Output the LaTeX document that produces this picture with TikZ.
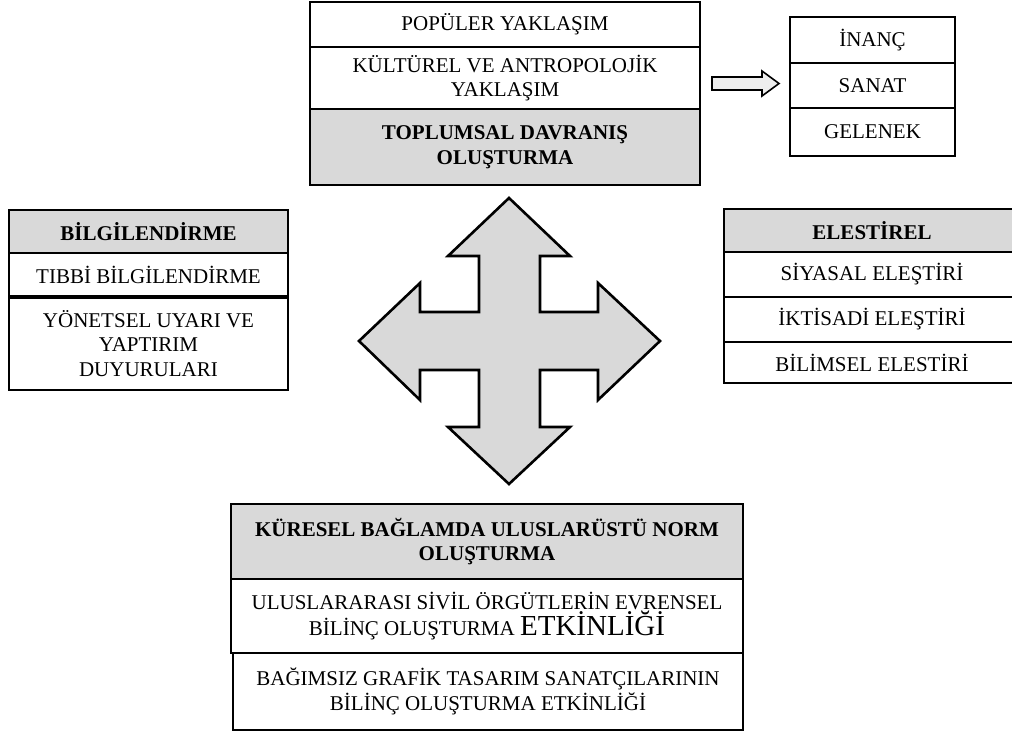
\documentclass[tikz,border=0pt]{standalone}
\usepackage{fontspec}
\setmainfont{Liberation Serif}
\definecolor{hgray}{HTML}{D9D9D9}
\definecolor{agray}{HTML}{EEEEEE}
\tikzset{
  cell/.style={draw=black, line width=1.8pt, align=center, inner sep=0pt, outer sep=0pt,
    anchor=north west, font=\fontsize{21}{24.5}\selectfont},
  headcell/.style={cell, fill=hgray, font=\fontsize{21}{24.5}\selectfont\bfseries},
  bigarrow/.style={draw=black, line width=2.6pt, fill=hgray, line join=miter},
  hollowarrow/.style={draw=black, line width=1.6pt, fill=agray, line join=miter},
}
\begin{document}
\begin{tikzpicture}[x=1pt,y=-1pt]
\useasboundingbox (0,0) rectangle (1012,734);
\clip (0,0) rectangle (1012,734);
\fill[white] (0,0) rectangle (1012,734);

% top centre
\node[cell, minimum width=390pt, minimum height=45pt] (t1) at (310,2) {POPÜLER YAKLAŞIM};
\node[cell, minimum width=390pt, minimum height=62pt] (t2) at (310,47) {KÜLTÜREL VE ANTROPOLOJİK\\YAKLAŞIM};
\node[headcell, minimum width=390pt, minimum height=76pt] (t3) at (310,109) {TOPLUMSAL DAVRANIŞ\\OLUŞTURMA};

% top right
\node[cell, minimum width=165pt, minimum height=46pt] (r1) at (790,17) {İNANÇ};
\node[cell, minimum width=165pt, minimum height=45pt] (r2) at (790,63) {SANAT};
\node[cell, minimum width=165pt, minimum height=48pt] (r3) at (790,108) {GELENEK};

% hollow arrow
\draw[hollowarrow] (712,77) -- (762,77) -- (762,71) -- (779,83.5) -- (762,96) -- (762,90) -- (712,90) -- cycle;

% left box
\node[headcell, minimum width=279pt, minimum height=43pt] (l1) at (9,210) {BİLGİLENDİRME};
\node[cell, minimum width=279pt, minimum height=44pt] (l2) at (9,253) {TIBBİ BİLGİLENDİRME};
\node[cell, minimum width=279pt, minimum height=93pt] (l3) at (9,297) {YÖNETSEL UYARI VE\\YAPTIRIM\\DUYURULARI};
\draw[line width=3.2pt] (l2.south west) -- (l2.south east);

% right box
\node[headcell, minimum width=296pt, minimum height=43pt] (e1) at (724,209) {ELESTİREL};
\node[cell, minimum width=296pt, minimum height=45pt] (e2) at (724,252) {SİYASAL ELEŞTİRİ};
\node[cell, minimum width=296pt, minimum height=45pt] (e3) at (724,297) {İKTİSADİ ELEŞTİRİ};
\node[cell, minimum width=296pt, minimum height=41pt] (e4) at (724,342) {BİLİMSEL ELESTİRİ};

% four-way arrow
\draw[bigarrow] (509,198) -- (570,256) -- (540,256) -- (540,312) -- (598,312) -- (598,283)
  -- (660,341) -- (598,400) -- (598,370) -- (540,370) -- (540,427) -- (570,427)
  -- (509,484) -- (448,427) -- (479,427) -- (479,370) -- (420,370) -- (420,400)
  -- (359,341) -- (420,283) -- (420,312) -- (479,312) -- (479,256) -- (448,256) -- cycle;

% bottom box
\node[headcell, minimum width=512pt, minimum height=75pt] (b1) at (231,504) {KÜRESEL BAĞLAMDA ULUSLARÜSTÜ NORM\\OLUŞTURMA};
\node[cell, minimum width=512pt, minimum height=74pt] (b2) at (231,579) {ULUSLARARASI SİVİL ÖRGÜTLERİN EVRENSEL\\BİLİNÇ OLUŞTURMA {\fontsize{29}{30}\selectfont ETKİNLİĞİ}};
\node[cell, minimum width=510pt, minimum height=77pt] (b3) at (233,653) {BAĞIMSIZ GRAFİK TASARIM SANATÇILARININ\\BİLİNÇ OLUŞTURMA ETKİNLİĞİ};
\end{tikzpicture}
\end{document}
